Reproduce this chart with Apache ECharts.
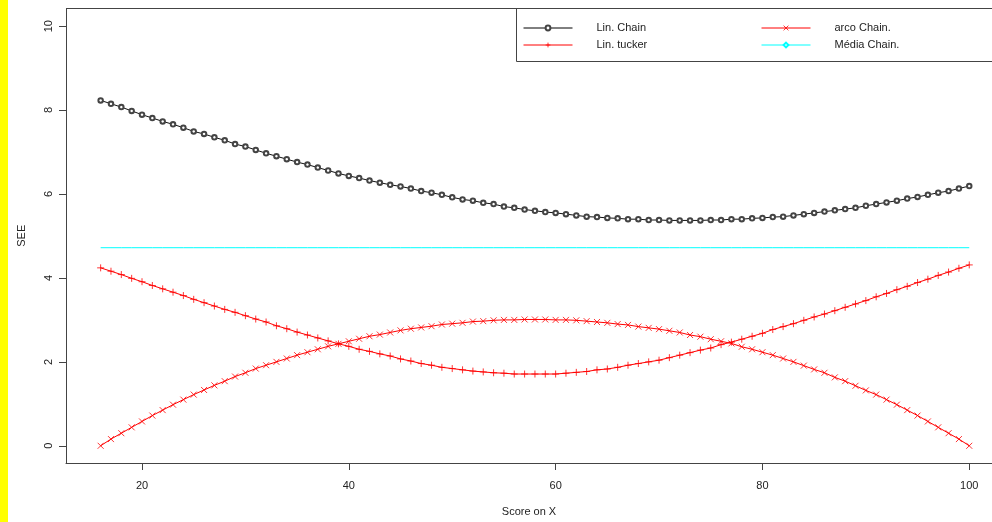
<!DOCTYPE html>
<html>
<head>
<meta charset="utf-8">
<script src="https://cdn.jsdelivr.net/npm/echarts@6/dist/echarts.min.js"></script>
<style>
html,body{margin:0;padding:0;background:#fff;}
#chart{width:992px;height:522px;}
</style>
</head>
<body>
<div id="chart"></div>
<script>
const scoreX = [16,17,18,19,20,21,22,23,24,25,26,27,28,29,30,31,32,33,34,35,36,37,38,39,40,41,42,43,44,45,46,47,48,49,50,51,52,53,54,55,56,57,58,59,60,61,62,63,64,65,66,67,68,69,70,71,72,73,74,75,76,77,78,79,80,81,82,83,84,85,86,87,88,89,90,91,92,93,94,95,96,97,98,99,100];

const linChain = [8.23,8.15,8.07,7.98,7.89,7.81,7.73,7.66,7.58,7.49,7.43,7.35,7.28,7.19,7.13,7.05,6.97,6.90,6.83,6.76,6.70,6.63,6.56,6.49,6.43,6.38,6.32,6.27,6.22,6.18,6.13,6.07,6.03,5.98,5.92,5.87,5.84,5.79,5.76,5.70,5.67,5.63,5.60,5.57,5.55,5.52,5.49,5.46,5.45,5.43,5.42,5.40,5.40,5.38,5.38,5.37,5.37,5.37,5.37,5.38,5.38,5.40,5.40,5.42,5.43,5.45,5.46,5.49,5.52,5.55,5.58,5.61,5.64,5.67,5.72,5.76,5.80,5.84,5.89,5.93,5.98,6.03,6.07,6.13,6.19];

const linTucker = [4.24,4.16,4.08,3.99,3.91,3.82,3.74,3.66,3.58,3.49,3.41,3.33,3.25,3.18,3.10,3.02,2.95,2.86,2.79,2.71,2.64,2.57,2.50,2.43,2.37,2.30,2.25,2.19,2.14,2.07,2.02,1.96,1.92,1.87,1.84,1.81,1.78,1.76,1.74,1.73,1.71,1.71,1.71,1.71,1.71,1.73,1.75,1.77,1.81,1.83,1.87,1.92,1.96,2.00,2.04,2.10,2.16,2.22,2.28,2.33,2.41,2.47,2.54,2.61,2.68,2.77,2.84,2.91,2.99,3.07,3.14,3.22,3.30,3.38,3.46,3.55,3.63,3.72,3.80,3.89,3.97,4.06,4.14,4.23,4.31];

const arcoChain = [0.00,0.16,0.30,0.44,0.58,0.72,0.85,0.98,1.10,1.22,1.33,1.44,1.54,1.65,1.74,1.84,1.92,2.00,2.08,2.16,2.23,2.30,2.37,2.43,2.49,2.55,2.61,2.65,2.70,2.75,2.79,2.82,2.85,2.89,2.91,2.93,2.96,2.97,2.99,3.00,3.00,3.01,3.01,3.01,3.00,3.00,2.99,2.97,2.95,2.93,2.90,2.88,2.84,2.81,2.78,2.74,2.70,2.64,2.60,2.54,2.49,2.44,2.36,2.30,2.23,2.16,2.08,2.00,1.91,1.82,1.74,1.63,1.54,1.43,1.32,1.22,1.10,0.98,0.85,0.72,0.58,0.44,0.30,0.16,0.00];

const mediaChain = [4.72,4.72,4.72,4.72,4.72,4.72,4.72,4.72,4.72,4.72,4.72,4.72,4.72,4.72,4.72,4.72,4.72,4.72,4.72,4.72,4.72,4.72,4.72,4.72,4.72,4.72,4.72,4.72,4.72,4.72,4.72,4.72,4.72,4.72,4.72,4.72,4.72,4.72,4.72,4.72,4.72,4.72,4.72,4.72,4.72,4.72,4.72,4.72,4.72,4.72,4.72,4.72,4.72,4.72,4.72,4.72,4.72,4.72,4.72,4.72,4.72,4.72,4.72,4.72,4.72,4.72,4.72,4.72,4.72,4.72,4.72,4.72,4.72,4.72,4.72,4.72,4.72,4.72,4.72,4.72,4.72,4.72,4.72,4.72,4.72];

const xTicks = [20,40,60,80,100];
const yTicks = [0,2,4,6,8,10];
const seriesNames = ['Lin. Chain','Lin. tucker','arco Chain.','Média Chain.'];
const seriesColors = ['#000000','#ff0000','#ff0000','#00ffff'];

const pair = arr => scoreX.map((x,i)=>[x,arr[i]]);
const FONT = 'Liberation Sans, Arial, sans-serif';
const PLUS = 'path://M5,0L5,10M0,5L10,5';
const CROSS = 'path://M0,0L10,10M10,0L0,10';

const legendItem = i => ({
  name: seriesNames[i],
  lineStyle:{color:seriesColors[i], width:1, opacity:1},
  itemStyle:{borderColor:seriesColors[i], borderWidth:0.8, opacity:1}
});

const legendCommon = {
  orient:'vertical', top:22.5, padding:0,
  itemWidth:49, itemHeight:6, itemGap:6,
  textStyle:{fontSize:11, color:'#222', padding:[0,0,0,19], fontFamily:FONT}
};

const chart = echarts.init(document.getElementById('chart'), null, {renderer:'canvas'});
chart.setOption({
  animation:false,
  backgroundColor:'#ffffff',
  textStyle:{fontFamily:FONT},
  grid:{left:66, top:8.5, right:0, height:456, show:false, containLabel:false},
  xAxis:{
    type:'value', min:12.65, max:102.2,
    name:'Score on X', nameLocation:'middle', nameGap:43,
    nameTextStyle:{fontSize:11, color:'#222', fontFamily:FONT},
    axisLine:{show:true, onZero:false, lineStyle:{color:'#444', width:1}},
    axisTick:{show:true, length:7, customValues:xTicks, lineStyle:{color:'#444'}},
    axisLabel:{customValues:xTicks, fontSize:11, color:'#222', margin:17, fontFamily:FONT},
    splitLine:{show:false}
  },
  yAxis:{
    type:'value', min:-0.41, max:10.42,
    name:'SEE', nameLocation:'middle', nameGap:39, nameRotate:90,
    nameTextStyle:{fontSize:11, color:'#222', fontFamily:FONT},
    axisLine:{show:true, onZero:false, lineStyle:{color:'#444', width:1}},
    axisTick:{show:true, length:7, customValues:yTicks, lineStyle:{color:'#444'}},
    axisLabel:{customValues:yTicks, fontSize:11, color:'#222', margin:12, rotate:90, fontFamily:FONT},
    splitLine:{show:false}
  },
  legend:[
    Object.assign({data:[legendItem(0), legendItem(1)], left:523}, legendCommon),
    Object.assign({data:[legendItem(2), legendItem(3)], left:761}, legendCommon)
  ],
  graphic:[
    {type:'rect', left:0, top:0, shape:{width:8, height:522}, style:{fill:'#ffff00'}, z:10},
    {type:'line', shape:{x1:66, y1:8.5, x2:992, y2:8.5}, style:{stroke:'#444', lineWidth:1}, z:10},
    {type:'rect', shape:{x:516.5, y:8.5, width:500, height:53}, style:{fill:'none', stroke:'#444', lineWidth:1}, z:10}
  ],
  series:[
    {name:seriesNames[0], type:'line', data:pair(linChain), color:seriesColors[0],
     symbol:'emptyCircle', symbolSize:4.5, showSymbol:true,
     lineStyle:{color:'#111', width:1}, itemStyle:{color:'#444', borderColor:'#444', borderWidth:0.7}},
    {name:seriesNames[1], type:'line', data:pair(linTucker), color:seriesColors[1],
     symbol:PLUS, symbolSize:7, showSymbol:true,
     lineStyle:{color:'#ff0000', width:1}, itemStyle:{color:'#ff0000', borderColor:'#ff0000', borderWidth:0.8}},
    {name:seriesNames[2], type:'line', data:pair(arcoChain), color:seriesColors[2],
     symbol:CROSS, symbolSize:6, showSymbol:true,
     lineStyle:{color:'#ff0000', width:1}, itemStyle:{color:'#ff0000', borderColor:'#ff0000', borderWidth:0.8}},
    {name:seriesNames[3], type:'line', data:pair(mediaChain), color:seriesColors[3],
     symbol:'emptyDiamond', symbolSize:7, showSymbol:false,
     lineStyle:{color:'#00ffff', width:1, opacity:1}, itemStyle:{color:'#00ffff', borderColor:'#00ffff', borderWidth:1}}
  ]
});
</script>
</body>
</html>
